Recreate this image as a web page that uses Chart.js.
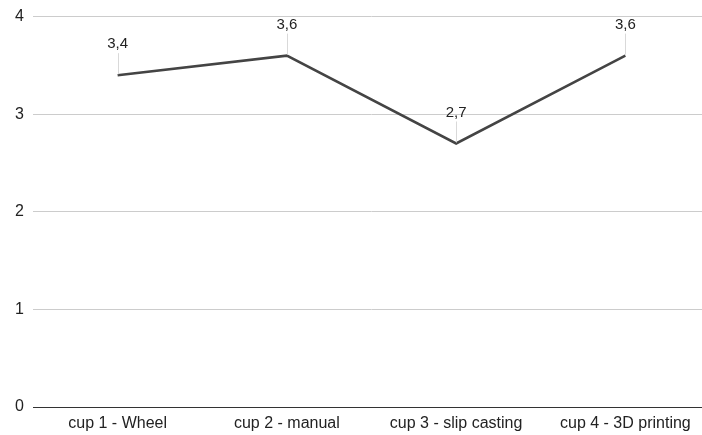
<!DOCTYPE html>
<html>
<head>
<meta charset="utf-8">
<script src="https://cdn.jsdelivr.net/npm/chart.js@4"></script>
<style>
  html, body { margin: 0; padding: 0; background: #fff; overflow: hidden; }
  #wrap { position: relative; top: -2px; width: 710px; height: 437px; }
</style>
</head>
<body>
<div id="wrap"><canvas id="chart"></canvas></div>
<script>
const cups = ['cup 1 - Wheel', 'cup 2 - manual', 'cup 3 - slip casting', 'cup 4 - 3D printing'];
const scores = [3.4, 3.6, 2.7, 3.6];
const yTicks = [0, 1, 2, 3, 4];

const FONT = '"Liberation Sans", Arial, sans-serif';

// value labels with a short leader line down to the point
const valueLabels = {
  id: 'valueLabels',
  afterDatasetsDraw(chart) {
    const ctx = chart.ctx;
    const meta = chart.getDatasetMeta(0);
    ctx.save();
    meta.data.forEach((pt, i) => {
      ctx.strokeStyle = '#d9d9d9';
      ctx.lineWidth = 1;
      ctx.beginPath();
      ctx.moveTo(Math.round(pt.x) + 0.5, pt.y - 22);
      ctx.lineTo(Math.round(pt.x) + 0.5, pt.y - 1);
      ctx.stroke();
      ctx.fillStyle = '#222';
      ctx.font = '15px ' + FONT;
      ctx.textAlign = 'center';
      ctx.textBaseline = 'middle';
      ctx.fillText(scores[i].toString().replace('.', ','), pt.x, pt.y - 31);
    });
    ctx.restore();
  }
};

new Chart(document.getElementById('chart'), {
  type: 'line',
  data: {
    labels: cups,
    datasets: [{
      data: scores,
      borderColor: '#444',
      borderWidth: 2.5,
      tension: 0,
      pointRadius: 0,
      pointHoverRadius: 0
    }]
  },
  options: {
    responsive: true,
    maintainAspectRatio: false,
    animation: false,
    layout: { padding: 0 },
    plugins: { legend: { display: false }, tooltip: { enabled: false } },
    scales: {
      x: {
        offset: true,
        grid: { display: false, drawTicks: false },
        border: { color: '#333', width: 1 },
        ticks: { color: '#222', font: { family: FONT, size: 16 }, padding: 7, maxRotation: 0 },
        afterFit: s => { s.height = 28; }
      },
      y: {
        min: 0,
        max: 4,
        afterBuildTicks: s => { s.ticks = yTicks.map(v => ({ value: v })); },
        grid: { color: '#ccc', drawTicks: false },
        border: { display: false },
        ticks: { color: '#222', font: { family: FONT, size: 16 }, padding: 9 },
        afterFit: s => { s.width = 33; }
      }
    }
  },
  plugins: [valueLabels]
});
</script>
</body>
</html>
